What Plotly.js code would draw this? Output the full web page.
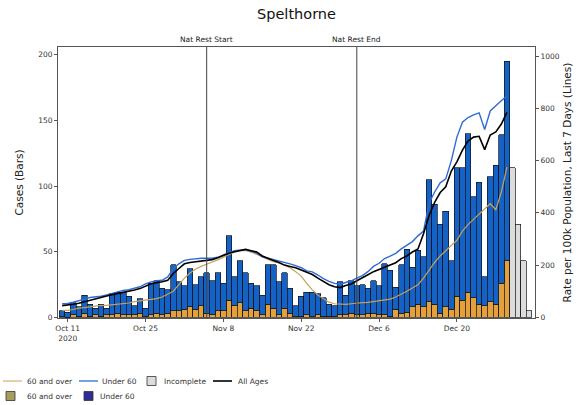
<!DOCTYPE html>
<html>
<head>
<meta charset="utf-8">
<script src="https://cdn.plot.ly/plotly-3.0.1.min.js"></script>
<style>html,body{margin:0;padding:0;background:#fff;}#chart{width:579px;height:405px;}</style>
</head>
<body>
<div id="chart"></div>
<script>
// ---- Data ----
const startDate = '2020-10-10';   // first complete day
const over60Cases = [1,0,2,1,3,1,2,1,2,2, 3,2,2,2,3,1,2,3,2,3, 5,5,6,8,6,9,3,2,5,5,
  13,9,11,5,7,5,2,10,7,2, 7,3,1,1,2,1,2,1,1,1, 2,2,3,2,2,3,3,2,2,1,
  6,3,4,8,10,8,12,10,3,8, 6,16,13,19,15,10,9,12,10,26, 43];
const under60Cases = [4,4,9,7,14,9,5,9,5,16, 16,17,14,7,11,6,24,25,20,18, 35,22,18,29,19,22,31,26,29,21,
  49,22,32,29,19,19,15,30,33,25, 27,19,8,15,17,18,16,14,9,8, 25,15,25,22,23,19,25,22,39,35,
  17,37,48,30,41,38,93,76,68,73, 37,98,101,121,77,93,22,95,106,113, 152];
const incompleteDates = ['2020-12-30','2020-12-31','2021-01-01','2021-01-02'];
const incompleteCases = [114,71,43,5];
const rateAllAges = [45,47,50,54,60,65,70,76,82,87, 91,96,101,105,110,120,129,133,136,142,
  168,187,205,210,213,216,218,221,228,238, 245,251,256,260,255,250,235,225,218,210,
  200,195,190,181,171,164,150,138,125,117, 114,122,128,140,150,163,175,183,192,200,
  209,225,235,250,262,320,390,440,478,500, 560,595,640,675,690,693,642,698,710,740, 785];
const rateUnder60 = [52,53,58,65,70,76,78,81,86,92, 100,103,106,112,117,128,136,140,142,155,
  187,205,218,222,225,226,226,226,230,240, 248,255,258,260,253,246,232,227,222,216,
  210,205,198,190,178,174,162,148,138,130, 127,134,140,150,160,175,195,207,225,234,
  245,262,275,290,312,330,437,480,515,530, 600,690,747,765,775,783,719,790,810,830, 848];
const rateOver60 = [27,27,30,35,37,40,44,46,46,48, 50,52,55,60,63,65,68,72,78,88,
  100,125,150,170,185,195,205,212,220,230, 240,250,255,255,250,242,232,222,213,208,
  200,190,175,158,130,105,85,70,58,52, 50,50,52,55,56,57,60,63,66,70,
  78,88,100,112,125,150,180,210,235,255, 272,295,330,355,375,395,415,435,412,480, 575];
const eventDates = ['2020-11-05','2020-12-02'];
const eventLabels = ['Nat Rest Start','Nat Rest End'];
const tickDates = ['2020-10-11','2020-10-25','2020-11-08','2020-11-22','2020-12-06','2020-12-20'];
const tickLabels = ['Oct 11<br>2020','Oct 25','Nov 8','Nov 22','Dec 6','Dec 20'];
const legendNames = ['60 and over','Under 60','Incomplete','All Ages','60 and over','Under 60'];

// consecutive dates for the complete days
const dates = over60Cases.map((_, i) => {
  const d = new Date(startDate + 'T00:00:00Z');
  d.setUTCDate(d.getUTCDate() + i);
  return d.toISOString().slice(0, 10);
});

const FONT = 'DejaVu Sans, sans-serif';
const edge = {color: '#111', width: 0.7};
const C = {over60Bar:'#E4A03A', under60Bar:'#1462C6', incomplete:'#DCDCDC',
  over60Line:'#C9A055', under60Line:'#2F6BD3', allLine:'#000',
  over60Key:'#A59C5E', under60Key:'#2E2E95'};

const traces = [
  {type:'bar', x: dates, y: over60Cases, name:'60 and over', marker:{color:C.over60Bar, line: edge}, showlegend:false, hoverinfo:'skip'},
  {type:'bar', x: dates, y: under60Cases, name:'Under 60', marker:{color:C.under60Bar, line: edge}, showlegend:false, hoverinfo:'skip'},
  {type:'scatter', mode:'lines', x: dates, y: rateOver60, yaxis:'y2', name:'60 and over',
   line:{color:C.over60Line, width:1.2}, showlegend:false},
  {type:'scatter', mode:'lines', x: dates, y: rateUnder60, yaxis:'y2', name:'Under 60',
   line:{color:C.under60Line, width:1.4}, showlegend:false},
  {type:'bar', x: incompleteDates, y: incompleteCases, name:'Incomplete',
   marker:{color:C.incomplete, line: edge}, showlegend:false},
  {type:'scatter', mode:'lines', x: dates, y: rateAllAges, yaxis:'y2', name:'All Ages',
   line:{color:C.allLine, width:1.6}, showlegend:false}
];

const W = 579, H = 405, ML = 58, MR = 44, MT = 47, MB = 87;
const PW = W - ML - MR, PH = H - MT - MB;
const px = v => (v - ML) / PW;          // pixel -> paper x
const py = v => (H - MB - v) / PH;      // pixel -> paper y

const shapes = eventDates.map(d => ({type:'line', xref:'x', yref:'paper', x0:d, x1:d, y0:0, y1:1,
  line:{color:'#444', width:1}}));
const annotations = eventDates.map((d, i) => ({xref:'x', yref:'paper', x:d, y:1, yanchor:'bottom', yshift:1,
  text:eventLabels[i], showarrow:false, font:{family:FONT, size:7.5, color:'#222'}}));

// ---- legend key (drawn below the chart, two rows) ----
const keys = [
  {kind:'line', color:C.over60Line, w:1, x:3, y:381, tx:25},
  {kind:'line', color:C.under60Line, w:1.3, x:79, y:381, tx:100},
  {kind:'box', color:C.incomplete, x:147, y:381, tx:162},
  {kind:'line', color:C.allLine, w:1.6, x:213, y:381, tx:236},
  {kind:'box', color:C.over60Key, x:6, y:396, tx:25},
  {kind:'box', color:C.under60Key, x:84, y:396, tx:98}
];
keys.forEach((k, i) => {
  if (k.kind === 'line') {
    shapes.push({type:'line', xref:'paper', yref:'paper', x0:px(k.x), x1:px(k.x + 19), y0:py(k.y), y1:py(k.y),
      line:{color:k.color, width:k.w}});
  } else {
    shapes.push({type:'rect', xref:'paper', yref:'paper', x0:px(k.x), x1:px(k.x + 9), y0:py(k.y - 4.5), y1:py(k.y + 4.5),
      fillcolor:k.color, line:{color:'#333', width:0.8}});
  }
  annotations.push({xref:'paper', yref:'paper', x:px(k.tx), y:py(k.y), xanchor:'left', yanchor:'middle',
    text:legendNames[i], showarrow:false, font:{family:FONT, size:7.5, color:'#333'}});
});

const layout = {
  width: W, height: H,
  margin: {l:ML, r:MR, t:MT, b:MB},
  paper_bgcolor:'#fff', plot_bgcolor:'#fff',
  font:{family:FONT, color:'#222'},
  showlegend:false,
  title:{text:'Spelthorne', x:0.5, xref:'paper', y:0.965, yanchor:'middle', font:{family:FONT, size:14.5, color:'#111'}},
  barmode:'stack', bargap:0,
  xaxis:{type:'date', range:['2020-10-09 06:14','2021-01-03 01:12'], tickvals: tickDates, ticktext: tickLabels,
    tickfont:{size:7.5, color:'#333'}, ticks:'outside', ticklen:3, tickcolor:'#555', automargin:false,
    showline:true, linecolor:'#555', linewidth:1, mirror:true, showgrid:false, zeroline:false},
  yaxis:{range:[-0.5,206], tickvals:[0,50,100,150,200], tickfont:{size:7.5, color:'#333'},
    ticks:'outside', ticklen:3, tickcolor:'#555', showline:true, linecolor:'#555', linewidth:1,
    showgrid:false, zeroline:false, automargin:false,
    title:{text:'Cases (Bars)', font:{size:10.5, color:'#222'}, standoff:12}},
  yaxis2:{overlaying:'y', side:'right', range:[-2.5,1035], tickvals:[0,200,400,600,800,1000],
    tickfont:{size:7.5, color:'#333'}, ticks:'outside', ticklen:3, tickcolor:'#555',
    showline:true, linecolor:'#555', linewidth:1, showgrid:false, zeroline:false, automargin:false,
    title:{text:'Rate per 100k Population, Last 7 Days (Lines)', font:{size:10.5, color:'#222'}, standoff:4}},
  shapes: shapes,
  annotations: annotations
};

Plotly.newPlot('chart', traces, layout, {displayModeBar:false, staticPlot:true});
</script>
</body>
</html>
